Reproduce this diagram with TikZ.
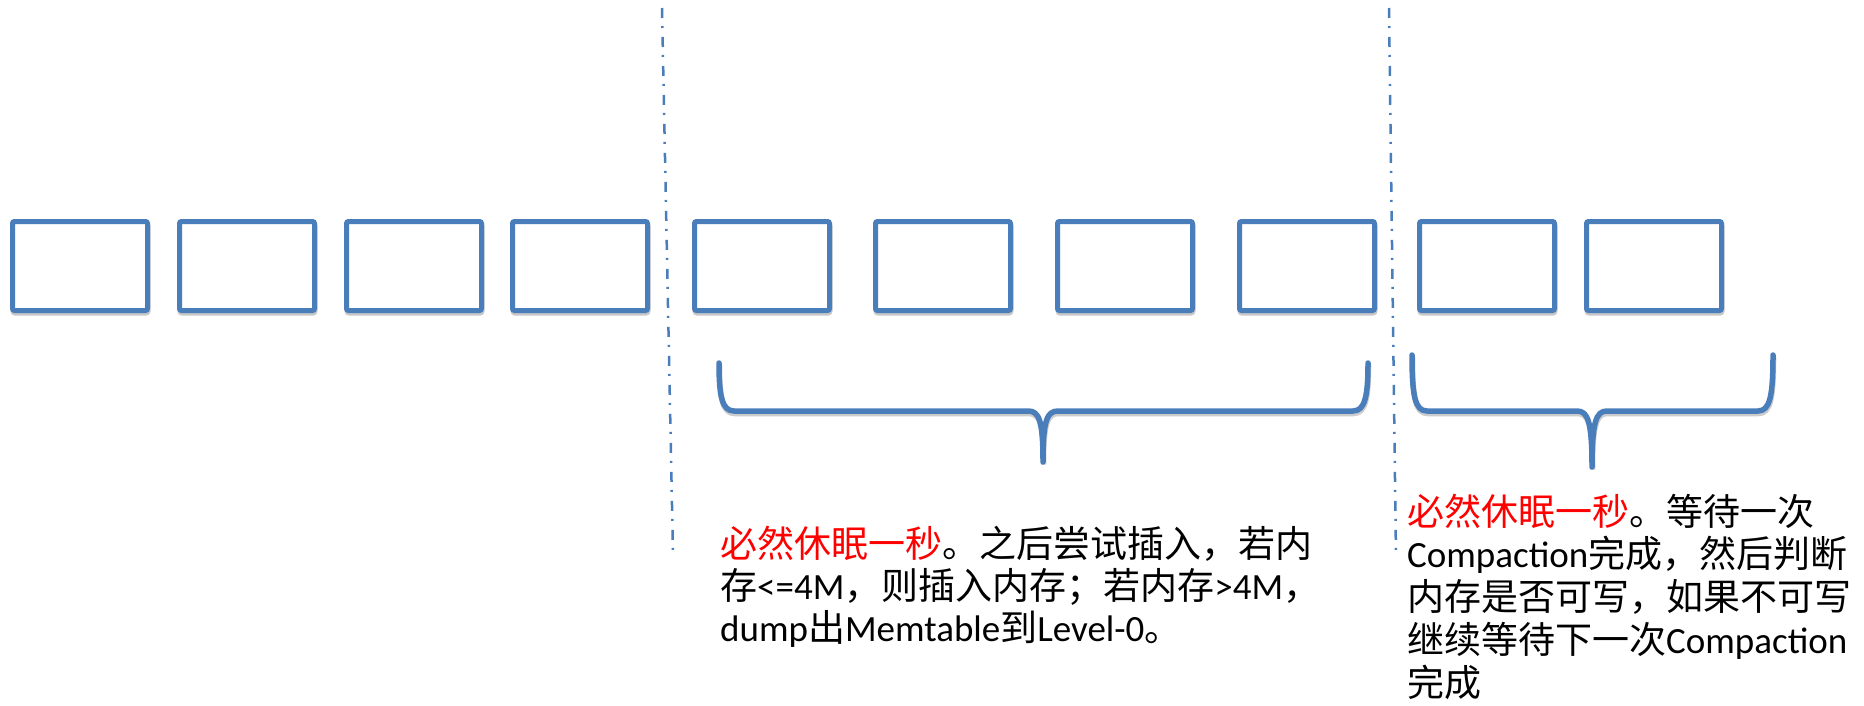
\documentclass[tikz,border=0pt]{standalone}
\usepackage{fontspec}
\setmainfont{Carlito}
\newfontfamily\cj{Noto Sans CJK SC}
\definecolor{office}{RGB}{74,126,187}
\tikzset{
  cell/.style={draw=office, line width=5pt, rounded corners=2pt, fill=white,
    minimum width=135pt, minimum height=89pt, inner sep=0pt,
    preaction={draw=black!22, line width=5pt, transform canvas={xshift=0.5pt,yshift=-2.5pt}}},
  bracepath/.style={draw=office, line width=5.5pt, line cap=round, line join=round,
    preaction={draw=black!20, line width=5.5pt, transform canvas={xshift=0.5pt,yshift=-2.5pt}}},
  divider/.style={draw=office, line width=2.5pt, dash pattern=on 10pt off 8pt on 2pt off 9pt},
  txt/.style={anchor=base west, inner sep=0pt, font=\fontsize{37pt}{42pt}\selectfont, text=black}
}
\begin{document}
\begin{tikzpicture}[x=1pt,y=-1pt]
\useasboundingbox (0,0) rectangle (1864,706);
% boxes
\foreach \n/\cx in {1/80,2/247,3/414,4/580,5/762,6/943,7/1125,8/1307,9/1487,10/1654}{
  \node[cell] (b\n) at (\cx,266) {};
}
% dividers
\coordinate (d1t) at (662,8);
\coordinate (d1b) at (673,555);
\coordinate (d2t) at (1389,8);
\coordinate (d2b) at (1396,558);
\draw[divider] (d1t) -- (d1b);
\draw[divider] (d2t) -- (d2b);
% brace 1
\draw[bracepath] (719,363) .. controls (719,396) and (722,411) .. (734,411)
  -- (1028,411) .. controls (1039,411) and (1043,420) .. (1043,462)
  .. controls (1043,420) and (1047,411) .. (1058,411)
  -- (1353,411) .. controls (1365,411) and (1368,396) .. (1368,363);
% brace 2
\draw[bracepath] (1412,355) .. controls (1412,396) and (1415,411) .. (1427,411)
  -- (1577,411) .. controls (1588,411) and (1592,422) .. (1592,467)
  .. controls (1592,422) and (1596,411) .. (1607,411)
  -- (1758,411) .. controls (1770,411) and (1773,396) .. (1773,355);
% text 1
\node[txt] (t1a) at (720,557) {{\cj\color{red}必然休眠一秒}{\cj 。之后尝试插入，若内}};
\node[txt] (t1b) at (720,599) {{\cj 存}<=4M{\cj ，则插入内存；若内存}>4M{\cj ，}};
\node[txt] (t1c) at (720,641) {dump{\cj 出}Memtable{\cj 到}Level-0{\cj 。}};
% text 2
\node[txt] (t2a) at (1407,525) {{\cj\color{red}必然休眠一秒}{\cj 。等待一次}};
\node[txt] (t2b) at (1407,567) {Compaction{\cj 完成，然后判断}};
\node[txt] (t2c) at (1407,610) {{\cj 内存是否可写，如果不可写}};
\node[txt] (t2d) at (1407,653) {{\cj 继续等待下一次}Compaction};
\node[txt] (t2e) at (1407,696) {{\cj 完成}};
\end{tikzpicture}
\end{document}
